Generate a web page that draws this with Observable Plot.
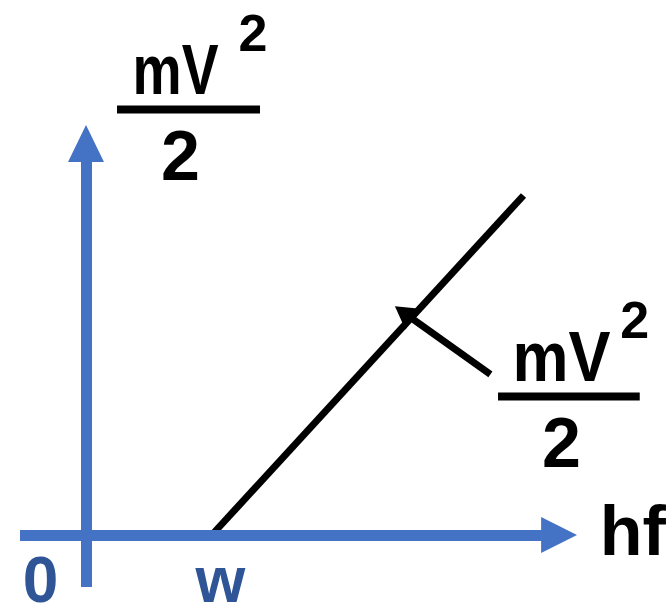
<!DOCTYPE html>
<html>
<head>
<meta charset="utf-8">
<script src="https://cdn.jsdelivr.net/npm/d3@7"></script>
<script src="https://cdn.jsdelivr.net/npm/@observablehq/plot@0.6"></script>
<style>
  html, body { margin: 0; padding: 0; background: #fff; }
  #chart svg { display: block; }
</style>
</head>
<body>
<div id="chart"></div>
<script>
// Photoelectric effect: kinetic energy mV²/2 of emitted electrons versus photon energy hf.
const workFunction = 2;              // threshold energy w
const hf = [2, 7];                   // photon energy along the plotted line
const kineticEnergy = [0, 5];        // mV²/2 = hf − w
const xTickLabels = ["0", "w"];
const xTickValues = [0, workFunction];
const xAxisLabel = "hf";
const numerator = "mV";
const power = "2";
const denominator = "2";

// Point on the line picked out by the labelled pointer, and where the pointer starts
const pointerHf = 5.2;
const pointerTail = {hf: 6.47, ke: 2.37};

const blue = "#4472C4";
const darkBlue = "#2F5597";
const font = "'Liberation Sans', Arial, sans-serif";

const xDomain = [0, 7], xRange = [86, 523];
const yDomain = [0, 5], yRange = [535, 195];
const xs = d3.scaleLinear(xDomain, xRange);
const ys = d3.scaleLinear(yDomain, yRange);

const linePoints = hf.map((h, i) => ({hf: h, ke: kineticEnergy[i]}));
const ticks = xTickValues.map((v, i) => ({v, label: xTickLabels[i]}));

// Pointer arrowhead: direction in screen space from the tail towards the line
const pointerHead = {hf: pointerHf, ke: pointerHf - workFunction};
const px = xs(pointerHead.hf) - xs(pointerTail.hf);
const py = ys(pointerHead.ke) - ys(pointerTail.ke);
const plen = Math.hypot(px, py);
const ux = px / plen, uy = py / plen;
const headAngle = Math.atan2(ux, -uy) * 180 / Math.PI;
const headShift = 5.3;

// Arrowheads of the two axes (filled triangles)
const xHead = [{x: 7.29, y1: -0.265, y2: 0.265}, {x: 7.865, y1: 0, y2: 0}];
const yHead = [{y: 5.485, x1: -0.288, x2: 0.288}, {y: 6.03, x1: 0, x2: 0}];

// Fraction mV²/2 drawn as stacked text with a bar
function fraction(cx, barY, x1, x2, opts = {}) {
  return [
    Plot.text([numerator], {x: cx, y: barY + 0.235, text: d => d, fontSize: 70, fontWeight: "bold",
      fontFamily: font, fill: "black", textAnchor: "middle", lineAnchor: "bottom", className: opts.className}),
    Plot.text([power], {x: x2 - 0.12 + (opts.supShift || 0), y: barY + 0.855, text: d => d, fontSize: 52, fontWeight: "bold",
      fontFamily: font, fill: "black", textAnchor: "middle", lineAnchor: "bottom"}),
    Plot.ruleY([barY], {x1, x2, stroke: "black", strokeWidth: 8}),
    Plot.text([denominator], {x: cx + (opts.denShift || 0), y: barY - 1.04, text: d => d, fontSize: 70, fontWeight: "bold",
      fontFamily: font, fill: "black", textAnchor: "middle", lineAnchor: "bottom"})
  ];
}

// tick label below the horizontal axis, nudged sideways from its value
const tickLabel = (tick, dx) => Plot.text([tick], {x: "v", y: -0.985, text: "label", dx, fontSize: 64,
  fontWeight: "bold", fontFamily: font, fill: darkBlue, textAnchor: "middle", lineAnchor: "bottom"});

const chart = Plot.plot({
  width: 666,
  height: 606,
  margin: 0,
  style: {background: "white", overflow: "visible"},
  x: {domain: xDomain, range: xRange, axis: null},
  y: {domain: yDomain, range: yRange, axis: null},
  marks: [
    // kinetic energy line
    Plot.line(linePoints, {x: "hf", y: "ke", stroke: "black", strokeWidth: 7, strokeLinecap: "butt"}),
    // pointer from the label to the line
    Plot.link([pointerTail], {x1: "hf", y1: "ke", x2: () => pointerHead.hf, y2: () => pointerHead.ke,
      stroke: "black", strokeWidth: 7, strokeLinecap: "butt"}),
    Plot.dot([pointerHead], {x: "hf", y: "ke", symbol: "triangle", r: 9.4, fill: "black", stroke: "none",
      rotate: headAngle, dx: ux * headShift, dy: uy * headShift}),
    // axes
    Plot.ruleY([0], {x1: -1.057, x2: 7.3, stroke: blue, strokeWidth: 11}),
    Plot.areaY(xHead, {x: "x", y1: "y1", y2: "y2", fill: blue, curve: "linear"}),
    Plot.ruleX([0], {y1: -0.765, y2: 5.5, stroke: blue, strokeWidth: 11}),
    Plot.areaX(yHead, {y: "y", x1: "x1", x2: "x2", fill: blue, curve: "linear"}),
    // tick labels under the horizontal axis
    tickLabel(ticks[0], -46),
    tickLabel(ticks[1], 9),
    // axis title
    Plot.text([xAxisLabel], {x: 8.22, y: -0.294, text: d => d, fontSize: 70, fontWeight: "bold",
      fontFamily: font, fill: "black", textAnchor: "start", lineAnchor: "bottom"}),
    // y axis title and label on the line
    ...fraction(1.426, 6.265, 0.497, 2.787, {className: "num-top", denShift: 0.08}),
    ...fraction(7.61, 2.044, 6.6, 8.87, {className: "num-side", supShift: 0.03})
  ]
});

// numerators are set in a slightly condensed width
d3.select(chart).selectAll(".num-top text").attr("textLength", 86).attr("lengthAdjust", "spacingAndGlyphs");
d3.select(chart).selectAll(".num-side text").attr("textLength", 98).attr("lengthAdjust", "spacingAndGlyphs");

document.getElementById("chart").append(chart);
</script>
</body>
</html>
